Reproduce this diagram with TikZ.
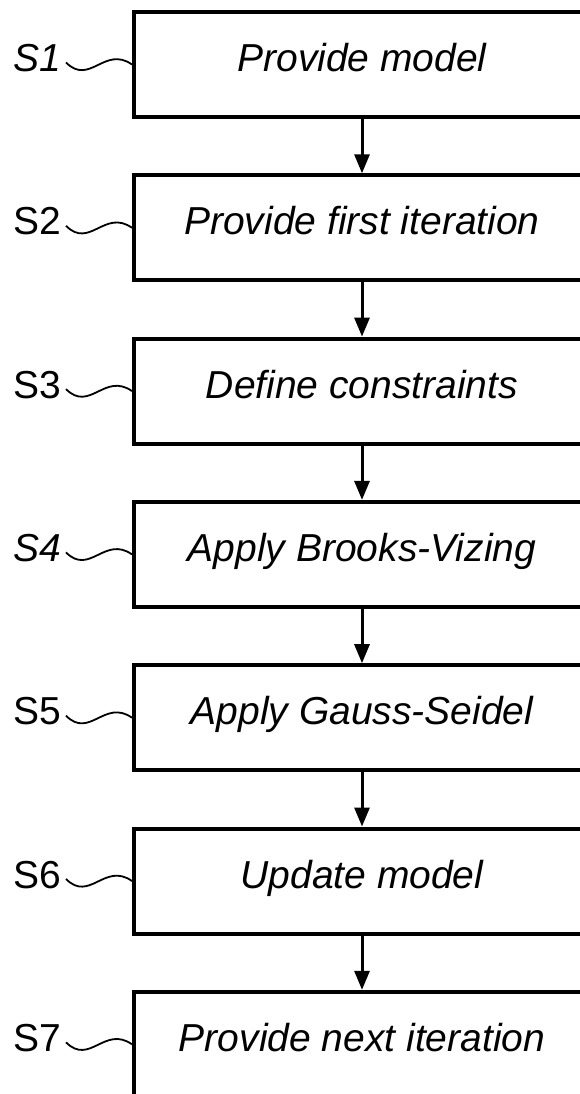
\documentclass[tikz,border=0pt]{standalone}
\usepackage{fontspec}
\setmainfont{Liberation Sans}
\usetikzlibrary{positioning,arrows.meta}

\begin{document}
\begin{tikzpicture}[x=1pt,y=-1pt,
  stepbox/.style={draw,line width=4pt,minimum width=456pt,minimum height=105pt,
    text height=28pt,text depth=14pt,font=\fontsize{39}{46}\selectfont\itshape},
  steplabel/.style={inner sep=5pt,text height=28pt,text depth=14pt,
    font=\fontsize{39}{46}\selectfont},
  flow/.style={line width=3pt,-{Triangle[length=19pt,width=15pt]}},
  wave/.style={line width=1.8pt,out=-45,in=145,looseness=1.3}]
  \useasboundingbox (0,0) rectangle (579,1094);
  \foreach \txt/\lshape [count=\y] in {Provide model/\itshape,Provide first iteration/\upshape,
      Define constraints/\upshape,Apply Brooks-Vizing/\itshape,Apply Gauss-Seidel/\upshape,
      Update model/\upshape,Provide next iteration/\upshape}{
    \node [stepbox] (box-\y) at (362,{64.5+163.3*(\y-1)}) {\txt};
    \node [steplabel,left=66pt of box-\y] (lab-\y) {\lshape S\y};
    \draw [wave] ([yshift=2pt]lab-\y.east) to (box-\y.west);
    \ifnum\y>1
      \pgfmathtruncatemacro\p{\y-1}
      \draw [flow] (box-\p) -- (box-\y);
    \fi
  }
\end{tikzpicture}
\end{document}
